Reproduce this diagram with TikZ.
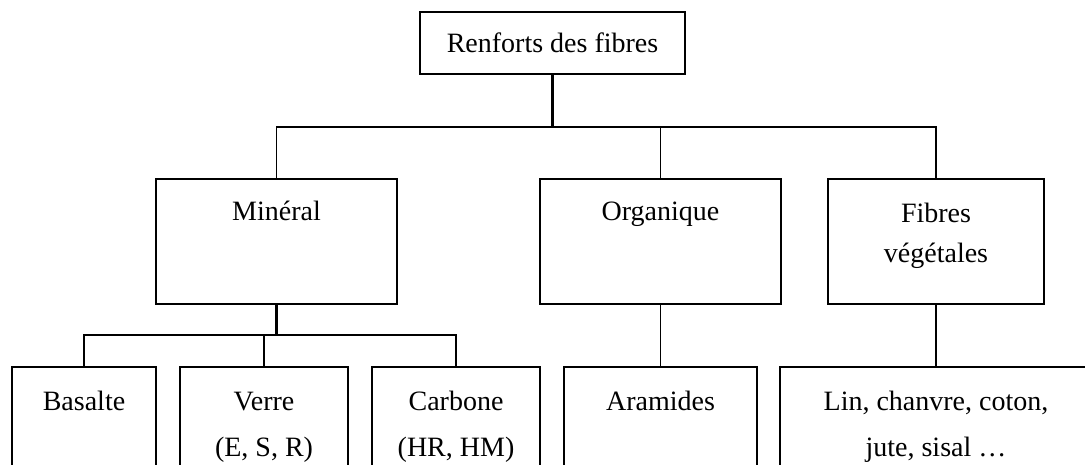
\documentclass[tikz,border=0pt]{standalone}
\usepackage{fontspec}
\setmainfont{Liberation Serif}

\begin{document}
\begin{tikzpicture}[x=0.5pt,y=-0.5pt]
	\useasboundingbox (0,0) rectangle (1085,465);
	\clip (0,0) rectangle (1085,465);
	\begin{scope}[node font=\fontsize{14}{23}\selectfont]
		\begin{scope}[every node/.style={draw,rectangle,line width=0.9pt,inner sep=0pt}]
			\node[minimum width=132.5pt,minimum height=31pt] (top) at (552.5,43) {Renforts des fibres};
			\node[minimum width=120.5pt,minimum height=62.5pt] (min) at (276.5,241.5) {};
			\node[minimum width=120.5pt,minimum height=62.5pt] (org) at (660.5,241.5) {};
			\node[minimum width=108pt,minimum height=62.5pt] (veg) at (936,241.5) {};
			\node[minimum width=72pt,minimum height=61.5pt] (bas) at (84,428.5) {};
			\node[minimum width=84pt,minimum height=61.5pt] (ver) at (264,428.5) {};
			\node[minimum width=84pt,minimum height=61.5pt] (car) at (456,428.5) {};
			\node[minimum width=96.5pt,minimum height=61.5pt] (ara) at (660.5,428.5) {};
			\node[minimum width=156pt,minimum height=61.5pt] (lin) at (936,428.5) {};
		\end{scope}
		
		% base anchor sits on the last line
		\begin{scope}[every node/.style={anchor=base,align=center}]
			\node (tmin) at (276.5,220) {Minéral};
			\node (torg) at (660.5,220) {Organique};
			\node (tveg) at (936,262) {Fibres\\[-3pt]végétales};
			\node (tbas) at (84,410) {Basalte};
			\node (tver) at (264,456) {Verre\\(E, S, R)};
			\node (tcar) at (456,456) {Carbone\\(HR, HM)};
			\node (tara) at (660.5,410) {Aramides};
			\node (tlin) at (936,456) {Lin, chanvre, coton,\\jute, sisal …};
		\end{scope}
	
		\coordinate (b1) at (552.5,127);
		\coordinate (b2) at (276.5,335);
		\begin{scope}[line width=0.8pt]
			\draw[line width=1.1pt] (top.south) -- (b1);
			\draw (b1) -| (min.north);
			\draw (b1) -| (org.north);
			\draw (b1) -| (veg.north);
			\draw[line width=1.1pt] (min.south) -- (b2);
			\draw (b2) -| (bas.north);
			\draw (b2) -| (ver.north);
			\draw (b2) -| (car.north);
			\draw (org.south) -- (ara.north);
			\draw (veg.south) -- (lin.north);
		\end{scope}
	\end{scope}
\end{tikzpicture}
\end{document}
